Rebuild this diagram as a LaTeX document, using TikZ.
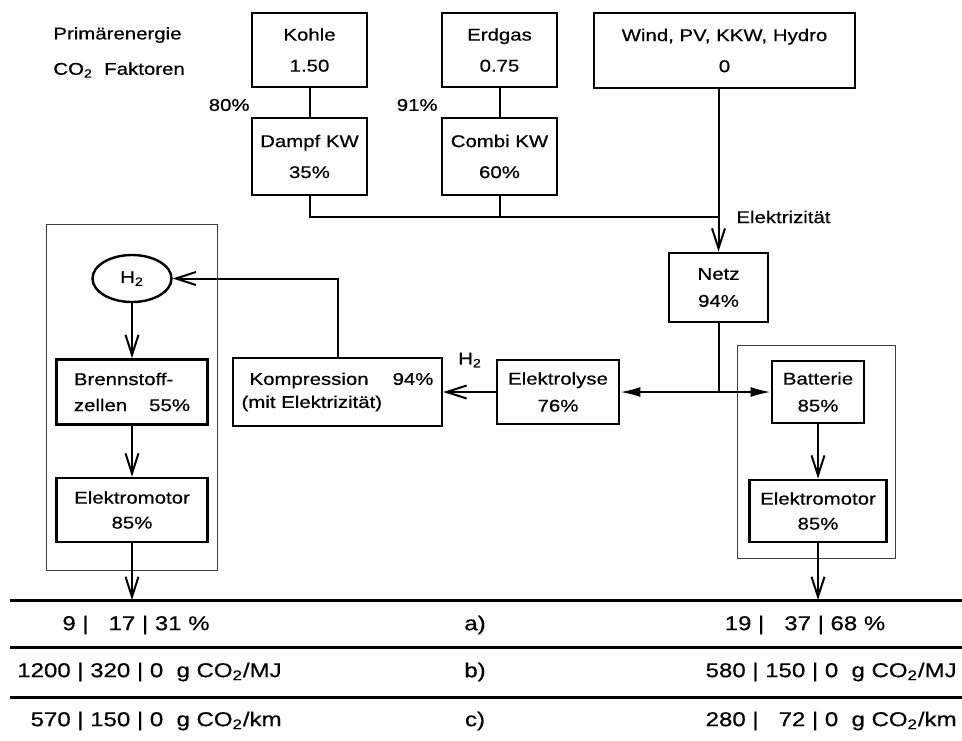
\documentclass[tikz,border=0pt]{standalone}
\usepackage{fontspec}
\setmainfont[FakeStretch=1.2, FakeBold=0.6]{Liberation Sans}
\usetikzlibrary{arrows.meta, positioning, shapes.geometric}
\tikzset{>={Straight Barb[length=10pt,width=6.5pt]}}
\tikzset{
  blk/.style={draw, line width=1.4pt, align=center, inner sep=1pt,
    font=\fontsize{8.5}{13.5}\selectfont},
  wide/.style={font=\fontsize{8.5}{15.5}\selectfont},
  link/.style={line width=1pt},
  frame/.style={draw=black!75, line width=0.5pt},
  rule/.style={line width=1.5pt},
  lbl/.style={font=\fontsize{8.5}{12}\selectfont, inner sep=0pt},
  tab/.style={font=\fontsize{10}{12}\selectfont, inner sep=0pt},
  tri/.style={{Latex[length=10pt,width=5pt]}-{Latex[length=10pt,width=5pt]}},
}

\begin{document}
\begin{tikzpicture}[x=0.5pt, y=-0.5pt]
    \useasboundingbox (0,0) rectangle (962,740);
    % Primaerenergie
    \node[lbl, anchor=west] (prim) at (53,35) {Primärenergie};
    \node[lbl, anchor=west] (fakt) at (53,70) {CO\textsubscript{2}\ \ Faktoren};
    \node[blk, wide, minimum width=57.5pt, minimum height=37pt] (kohle) at (309.5,50) {Kohle\\1.50};
    \node[blk, wide, minimum width=57.5pt, minimum height=37pt] (erdgas) at (499.5,50) {Erdgas\\0.75};
    \node[blk, wide, minimum width=130.5pt, minimum height=37.5pt] (wind) at (724.5,50.5) {Wind, PV, KKW, Hydro\\0};
    \node[blk, wide, minimum width=57.5pt, minimum height=38.5pt] (dampf) at (309.5,156.5) {Dampf KW\\35\%};
    \node[blk, wide, minimum width=57.5pt, minimum height=38.5pt] (combi) at (499.5,156.5) {Combi KW\\60\%};
    \node[lbl, anchor=east] (pk) at (250,105) {80\%};
    \node[lbl, anchor=east] (pg) at (438,105) {91\%};
    \draw[link] (kohle) -- (dampf);
    \draw[link] (erdgas) -- (combi);

    % Netz
    \node[blk, minimum width=49.5pt, minimum height=34.5pt] (netz) at (718.5,287.5) {Netz\\94\%};
    \coordinate (elec) at (718.5,217);
    \draw[link] (dampf.south) |- (elec);
    \draw[link] (combi.south) -- (combi.south |- elec);
    \draw[link, ->] (wind.south -| netz.north) -- (netz.north);
    \node[lbl, anchor=west] (elab) at (736,217) {Elektrizität};

    \node[blk, minimum width=61pt, minimum height=32pt] (elektrolyse) at (558,392) {Elektrolyse\\76\%};
    \node[blk, minimum width=46pt, minimum height=31pt] (batterie) at (818,392) {Batterie\\85\%};
    \node[blk, minimum width=68.5pt, minimum height=31pt, font=\fontsize{8.5}{12.5}\selectfont] (emotR) at (818,511) {Elektromotor\\85\%};
    \node[blk, align=left, minimum width=104.5pt, minimum height=34pt, font=\fontsize{8.5}{11.5}\selectfont] (kompression) at (337.5,392)
        {\hspace{4pt}Kompression\hspace{12pt}94\%\\(mit Elektrizität)};
    \draw[link] (netz.south) -- (netz.south |- batterie.west);
    \draw[link, tri] (elektrolyse.east) -- (batterie.west);
    \draw[link, ->] (elektrolyse.west) -- (kompression.east);
    \node[lbl] (h2lab) at (470,360) {H\textsubscript{2}};
    \draw[link, ->] (batterie) -- (emotR);

    % Brennstoffzellen
    \node[draw, ellipse, line width=1.2pt, inner sep=0pt, minimum width=39.5pt, minimum height=23.5pt, font=\fontsize{8.5}{12}\selectfont] (h2) at (132,278.5) {H\textsubscript{2}};
    \node[blk, align=left, minimum width=75.5pt, minimum height=32.5pt, font=\fontsize{8.5}{13}\selectfont] (brennstoff) at (132,392)
        {Brennstoff-\\zellen\hspace{11pt}55\%};
    \node[blk, minimum width=75.5pt, minimum height=32pt, font=\fontsize{8.5}{12.5}\selectfont] (emotL) at (132,510) {Elektromotor\\85\%};
    \draw[link, ->] (kompression.north) |- (h2.east);
    \draw[link, ->] (h2) -- (brennstoff);
    \draw[link, ->] (brennstoff) -- (emotL);

    \draw[frame] (46,224) rectangle (217,570);
    \draw[frame] (737,345) rectangle (895,558);

    % Tabelle
    \coordinate (ruleA) at (10,600);
    \coordinate (ruleB) at (10,647);
    \coordinate (ruleC) at (10,697);
    \foreach \r in {ruleA,ruleB,ruleC}
        \draw[rule] (\r) -- ++(952,0);
    \draw[link, ->] (emotL.south) -- (emotL.south |- ruleA);
    \draw[link, ->] (emotR.south) -- (emotR.south |- ruleA);

    \node[tab] (la) at (136,625) {9 |\quad 17 | 31 \%};
    \node[tab, anchor=east] (lb) at (282,672) {1200 | 320 | 0\ \ g CO\textsubscript{2}/MJ};
    \node[tab, anchor=east] (lc) at (282,721) {570 | 150 | 0\ \ g CO\textsubscript{2}/km};
    \node[tab] (ma) at (475,625) {a)};
    \node[tab] (mb) at (475,672) {b)};
    \node[tab] (mc) at (475,721) {c)};
    \node[tab] (ra) at (805,625) {19 |\quad 37 | 68 \%};
    \node[tab, anchor=east] (rb) at (957,672) {580 | 150 | 0\ \ g CO\textsubscript{2}/MJ};
    \node[tab, anchor=east] (rc) at (957,721) {280 |\quad 72 | 0\ \ g CO\textsubscript{2}/km};
\end{tikzpicture}
\end{document}
